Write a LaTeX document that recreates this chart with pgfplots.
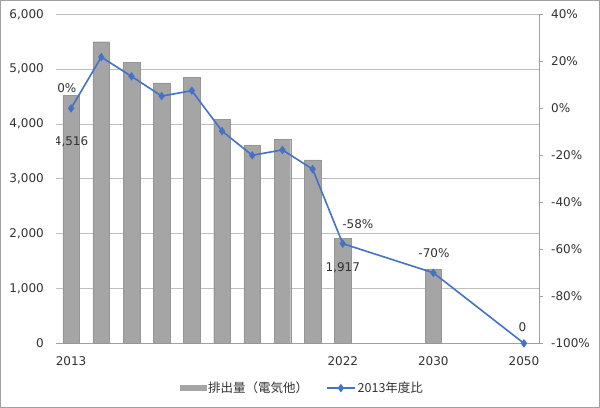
\documentclass[border=0pt]{standalone}
\usepackage{pgfplots}
\pgfplotsset{compat=1.18}
\usepackage{fontspec}
\setmainfont{DejaVu Sans}
\newfontfamily\cjk{Noto Sans CJK JP}
\definecolor{barc}{RGB}{165,165,165}
\definecolor{bard}{RGB}{150,150,150}
\definecolor{linec}{RGB}{68,114,196}
\definecolor{gridc}{RGB}{191,191,191}
\definecolor{axc}{RGB}{160,160,160}
\definecolor{txt}{RGB}{50,50,50}
\begin{document}
\fontsize{12bp}{14bp}\selectfont
\begin{tikzpicture}
\useasboundingbox (0,0) rectangle (600bp,408bp);
\draw[axc, line width=1bp] (0.5bp,0.5bp) rectangle (599.5bp,407.5bp);
\pgfplotsset{common/.style={scale only axis, width=483bp, height=329bp,
  at={(56bp,64.7bp)}, anchor=south west, xmin=-0.5, xmax=15.5,
  /pgf/number format/assume math mode=true,
  tick label style={font=\fontsize{12bp}{14bp}\selectfont, text=txt}}}
\begin{axis}[common, ymin=0, ymax=6000, ytick={0,1000,...,6000},
  xtick={0,9,12,15}, xticklabels={2013,2022,2030,2050},
  axis x line*=bottom, axis y line*=left,
  y axis line style={draw=none}, x axis line style={axc, line width=0.75bp, -},
  major tick length=0, ymajorgrids, grid style={gridc, line width=0.75bp},
  /pgf/number format/1000 sep={,},
  yticklabel style={xshift=-8bp}, xticklabel style={yshift=-9bp},
  ybar, bar width=0.55]
\addplot[fill=barc, draw=bard, line width=0.4bp] coordinates {(0,4516)(1,5500)(2,5128)(3,4750)(4,4854)(5,4080)(6,3613)(7,3716)(8,3345)(9,1917)(12,1350)};
\node[txt] at (axis cs:0,3673) {4,516};
\node[txt] at (axis cs:9,1369) {1,917};
\end{axis}
\begin{axis}[common, ymin=-100, ymax=40, ytick={-100,-80,...,40},
  yticklabel={\pgfmathprintnumber{\tick}\%},
  axis y line*=right, axis x line=none,
  y axis line style={axc, line width=0.75bp, -},
  tick align=outside, major tick length=4bp,
  ytick style={axc, line width=0.75bp},
  yticklabel style={xshift=4bp},
  legend columns=2, legend cell align=left,
  legend style={draw=none, fill=none, at={(0.51,-0.136)}, anchor=center,
    font=\cjk\fontsize{12.5bp}{14bp}\selectfont, text=txt,
    /tikz/every even column/.append style={column sep=16bp}}]
\addlegendimage{legend image code/.code={\fill[barc] (0bp,-2.5bp) rectangle (26bp,2.5bp);}}
\addlegendentry{排出量（電気他）}
\addplot[linec, line width=1.6bp, mark=diamond*, mark size=3bp, mark options={fill=linec},
  legend image code/.code={\draw[mark repeat=2,mark phase=2] plot coordinates {(0bp,0bp)(14bp,0bp)(28bp,0bp)};}]
  coordinates {(0,0)(1,21.8)(2,13.6)(3,5.2)(4,7.5)(5,-9.7)(6,-20.0)(7,-17.7)(8,-25.9)(9,-57.6)(12,-70)(15,-100)};
\addlegendentry{2013年度比}
\node[txt] at (axis cs:-0.14,8.6) {0\%};
\node[txt] at (axis cs:9.5,-49.2) {-58\%};
\node[txt] at (axis cs:12.02,-61.7) {-70\%};
\node[txt] at (axis cs:14.95,-93.3) {0};
\end{axis}
\end{tikzpicture}
\end{document}
